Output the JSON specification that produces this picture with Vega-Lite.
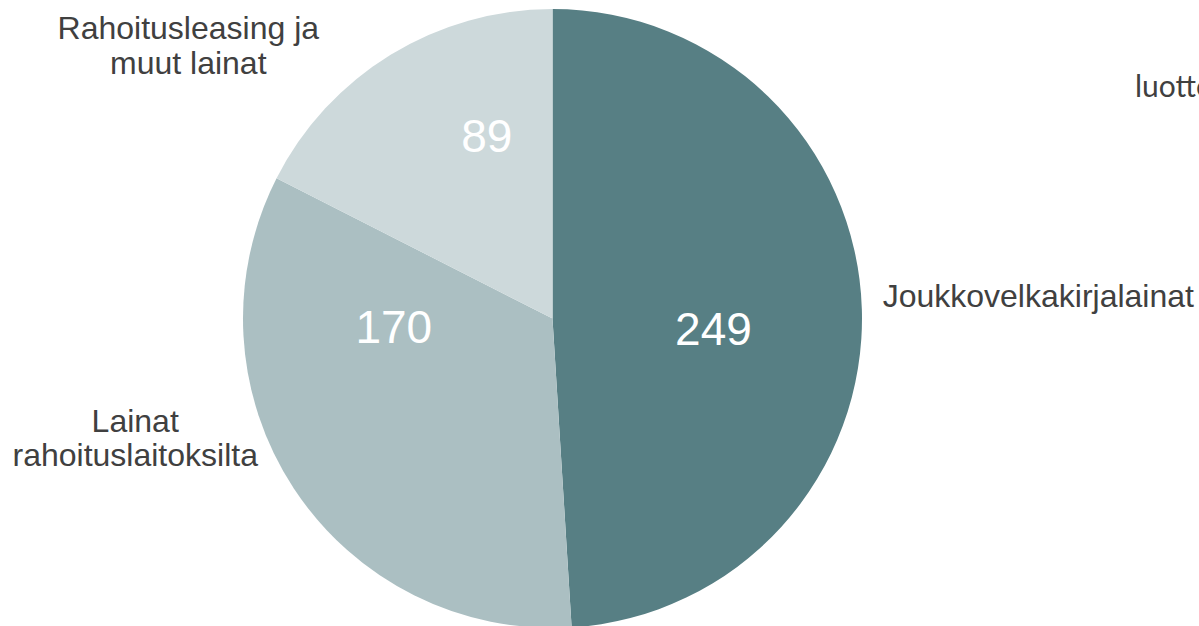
{
  "$schema": "https://vega.github.io/schema/vega-lite/v6.json",
  "width": 1105,
  "height": 619,
  "autosize": {"type": "none"},
  "padding": {"left": 0, "top": 9, "right": 94, "bottom": 0},
  "background": "white",
  "view": {"stroke": null},
  "layer": [
    {
      "data": {
        "values": [
          {"laji": "Joukkovelkakirjalainat", "nimi": "Joukkovelkakirjalainat", "arvo": 249},
          {"laji": "Lainat rahoituslaitoksilta", "nimi": "Lainat\nrahoituslaitoksilta", "arvo": 170},
          {"laji": "Rahoitusleasing ja muut lainat", "nimi": "Rahoitusleasing ja\nmuut lainat", "arvo": 89}
        ]
      },
      "encoding": {
        "theta": {"field": "arvo", "type": "quantitative", "stack": true},
        "order": {"field": "arvo", "sort": "descending"}
      },
      "layer": [
        {
          "mark": {"type": "arc", "outerRadius": 309.5},
          "encoding": {
            "color": {
              "field": "laji",
              "type": "nominal",
              "scale": {
                "domain": ["Joukkovelkakirjalainat", "Lainat rahoituslaitoksilta", "Rahoitusleasing ja muut lainat"],
                "range": ["#577f84", "#abbfc2", "#cdd9db"]
              },
              "legend": null
            }
          }
        },
        {
          "mark": {"type": "text", "radius": 160, "dx": 1, "dy": 31, "fontSize": 46, "font": "Liberation Sans", "color": "white", "align": "center", "baseline": "alphabetic"},
          "encoding": {"text": {"condition": {"test": "datum.laji === 'Joukkovelkakirjalainat'", "field": "arvo", "type": "quantitative"}, "value": ""}}
        },
        {
          "mark": {"type": "text", "radius": 160, "dx": -25, "dy": -63, "fontSize": 46, "font": "Liberation Sans", "color": "white", "align": "center", "baseline": "alphabetic"},
          "encoding": {"text": {"condition": {"test": "datum.laji === 'Lainat rahoituslaitoksilta'", "field": "arvo", "type": "quantitative"}, "value": ""}}
        },
        {
          "mark": {"type": "text", "radius": 160, "dx": 18, "dy": -30, "fontSize": 46, "font": "Liberation Sans", "color": "white", "align": "center", "baseline": "alphabetic"},
          "encoding": {"text": {"condition": {"test": "datum.laji === 'Rahoitusleasing ja muut lainat'", "field": "arvo", "type": "quantitative"}, "value": ""}}
        },
        {
          "mark": {"type": "text", "radius": 400, "dx": 86, "dy": 1, "fontSize": 32, "font": "Liberation Sans", "color": "#404040", "align": "center", "baseline": "alphabetic", "lineBreak": "\n", "lineHeight": 35},
          "encoding": {"text": {"condition": {"test": "datum.laji === 'Joukkovelkakirjalainat'", "field": "nimi"}, "value": ""}}
        },
        {
          "mark": {"type": "text", "radius": 400, "dx": -83, "dy": -106, "fontSize": 32, "font": "Liberation Sans", "color": "#404040", "align": "center", "baseline": "alphabetic", "lineBreak": "\n", "lineHeight": 34},
          "encoding": {"text": {"condition": {"test": "datum.laji === 'Lainat rahoituslaitoksilta'", "field": "nimi"}, "value": ""}}
        },
        {
          "mark": {"type": "text", "radius": 400, "dx": -155, "dy": 61, "fontSize": 32, "font": "Liberation Sans", "color": "#404040", "align": "center", "baseline": "alphabetic", "lineBreak": "\n", "lineHeight": 35},
          "encoding": {"text": {"condition": {"test": "datum.laji === 'Rahoitusleasing ja muut lainat'", "field": "nimi"}, "value": ""}}
        }
      ]
    },
    {
      "data": {"values": [{"teksti": "luottolimiitit"}]},
      "mark": {"type": "text", "dx": 582.5, "dy": -221.5, "fontSize": 30, "font": "Lato", "color": "#404040", "align": "left", "baseline": "alphabetic"},
      "encoding": {"text": {"field": "teksti"}}
    }
  ]
}
